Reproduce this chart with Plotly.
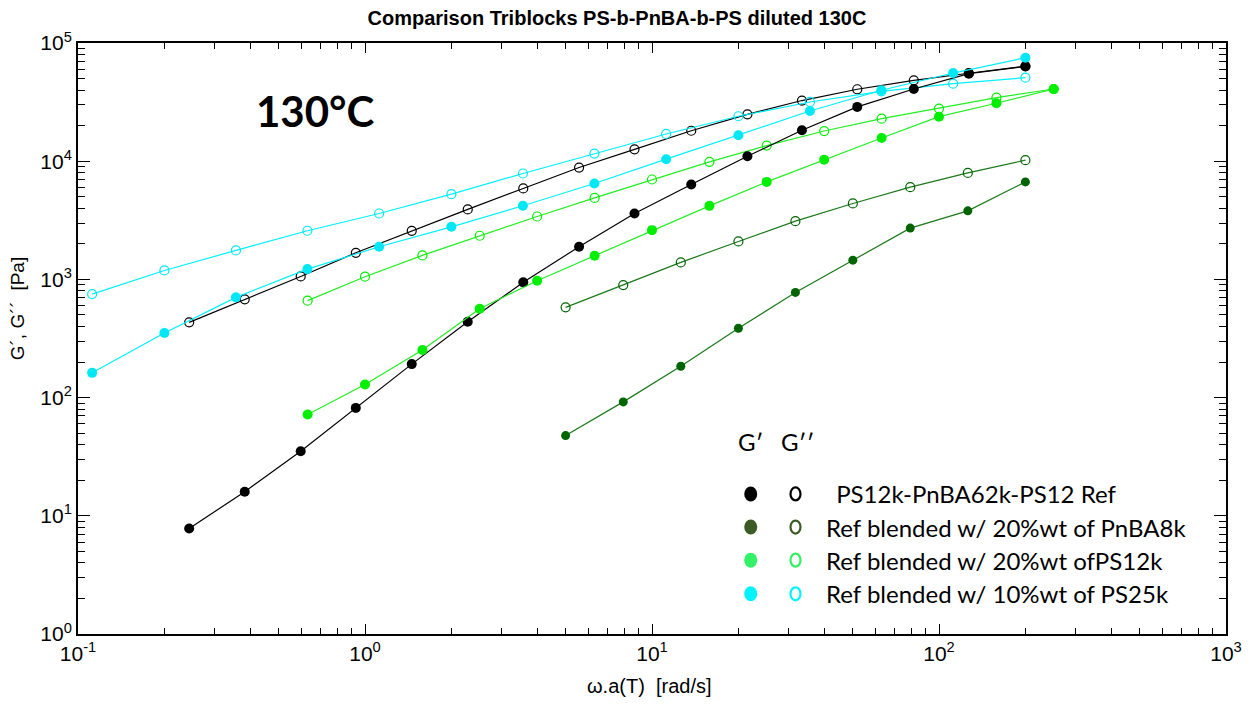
import plotly.graph_objects as go

# ---- data ----
ref_x = [0.244, 0.381, 0.597, 0.929, 1.455, 2.28, 3.56, 5.57, 8.69, 13.7, 21.5, 33.3, 51.9, 81.7, 127, 200]
ref_Gp = [7.8, 16.0, 35.2, 81.8, 192, 438, 944, 1890, 3610, 6350, 11000, 18300, 28800, 40800, 55000, 63500]
ref_Gpp = [433, 678, 1059, 1679, 2577, 3908, 5880, 8840, 12600, 18100, 24900, 32600, 40600, 48300, 55500, 63500]

pnba_x = [5.0, 7.94, 12.6, 20.0, 31.6, 50.1, 79.4, 126, 200]
pnba_Gp = [47.7, 92, 184, 386, 776, 1455, 2716, 3800, 6680]
pnba_Gpp = [580, 896, 1393, 2094, 3110, 4390, 6030, 7960, 10200]

ps12_x = [0.631, 1.0, 1.585, 2.51, 3.98, 6.31, 10.0, 15.85, 25.1, 39.8, 63.1, 100, 158.5, 251]
ps12_Gp = [71.9, 129, 253, 565, 975, 1585, 2610, 4190, 6680, 10300, 15700, 23800, 30900, 40800]
ps12_Gpp = [661, 1054, 1596, 2340, 3405, 4890, 7000, 9870, 13560, 18000, 22900, 27900, 34500, 40800]

ps25_x = [0.112, 0.2, 0.355, 0.63, 1.12, 2.0, 3.55, 6.3, 11.2, 20.0, 35.5, 63.0, 112.0, 200.0]
ps25_Gp = [162, 352, 705, 1222, 1888, 2786, 4200, 6470, 10400, 16600, 26600, 39800, 55700, 75100]
ps25_Gpp = [751, 1190, 1760, 2580, 3610, 5260, 7870, 11600, 17000, 24000, 31700, 39000, 45300, 50900]

legend_labels = [" PS12k-PnBA62k-PS12 Ref", "Ref blended w/ 20%wt of PnBA8k",
                 "Ref blended w/ 20%wt ofPS12k", "Ref blended w/ 10%wt of PS25k"]
tick_exps_x = [-1, 0, 1, 2, 3]
tick_exps_y = [0, 1, 2, 3, 4, 5]

series = [
    # x, G', G'', line colour, marker colour, filled size
    (ref_x, ref_Gp, ref_Gpp, "#000000", "#000000", 10),
    (pnba_x, pnba_Gp, pnba_Gpp, "#1a7a1a", "#006400", 9),
    (ps12_x, ps12_Gp, ps12_Gpp, "#22ee22", "#00ee00", 10),
    (ps25_x, ps25_Gp, ps25_Gpp, "#00f0ff", "#00e8f8", 10),
]

fig = go.Figure()
for x, gp, gpp, lc, mc, ms in series:
    fig.add_trace(go.Scatter(
        x=x, y=gpp, mode="lines+markers",
        line=dict(color=lc, width=1.2),
        marker=dict(symbol="circle-open", size=9, color=mc, line=dict(width=1.2, color=mc)),
        showlegend=False))
for x, gp, gpp, lc, mc, ms in series:
    fig.add_trace(go.Scatter(
        x=x, y=gp, mode="lines+markers",
        line=dict(color=lc, width=1.2),
        marker=dict(symbol="circle", size=ms, color=mc),
        showlegend=False))

# ---- hand-made legend ----
leg_fill = ["#000000", "#3b5a24", "#33f066", "#00f4ff"]
leg_open = ["#000000", "#3b5a24", "#33f066", "#00f4ff"]
row_y = [0.237, 0.181, 0.125, 0.068]
shapes = []
annotations = []
for i, lab in enumerate(legend_labels):
    shapes.append(dict(type="circle", xref="paper", yref="paper", xsizemode="pixel", ysizemode="pixel",
                       xanchor=0.586, yanchor=row_y[i], x0=-6.5, x1=6.5, y0=-7.5, y1=7.5,
                       fillcolor=leg_fill[i], line=dict(width=0)))
    shapes.append(dict(type="circle", xref="paper", yref="paper", xsizemode="pixel", ysizemode="pixel",
                       xanchor=0.625, yanchor=row_y[i], x0=-5, x1=5, y0=-6.5, y1=6.5,
                       fillcolor="rgba(0,0,0,0)", line=dict(width=2.2, color=leg_open[i])))
    annotations.append(dict(xref="paper", yref="paper", x=0.6496 if i else 0.653, y=row_y[i],
                            text=lab, showarrow=False, xanchor="left", yanchor="middle",
                            font=dict(family="Lato", size=24, color="#000000")))
annotations.append(dict(xref="paper", yref="paper", x=0.586, y=0.325, text="G′", showarrow=False,
                        xanchor="center", yanchor="middle", font=dict(family="Lato", size=24, color="#000")))
annotations.append(dict(xref="paper", yref="paper", x=0.627, y=0.325, text="G′′", showarrow=False,
                        xanchor="center", yanchor="middle", font=dict(family="Lato", size=24, color="#000")))
annotations.append(dict(xref="paper", yref="paper", x=0.207, y=0.885, text="<b>130°C</b>", showarrow=False,
                        xanchor="center", yanchor="middle", font=dict(family="Lato", size=42, color="#000")))
# axis titles
annotations.append(dict(xref="paper", yref="paper", x=0.498, y=-0.088, text="ω.a(T)  [rad/s]",
                        showarrow=False, xanchor="center", yanchor="middle",
                        font=dict(family="Liberation Sans", size=20, color="#000")))
annotations.append(dict(xref="paper", yref="paper", x=-0.052, y=0.55, text="G´, G´´  [Pa]",
                        showarrow=False, xanchor="center", yanchor="middle", textangle=-90,
                        font=dict(family="Liberation Sans", size=19, color="#000")))

axis_common = dict(type="log", showgrid=False, zeroline=False, showline=True, linecolor="#000",
                   linewidth=2, mirror="ticks", ticks="inside", tickcolor="#000", tickwidth=1.3,
                   tickfont=dict(family="Liberation Sans", size=21, color="#000"))

fig.update_layout(
    width=1254, height=706,
    margin=dict(l=78, r=17, t=43, b=72),
    paper_bgcolor="white", plot_bgcolor="white",
    title=dict(text="<b>Comparison Triblocks PS-b-PnBA-b-PS diluted 130C</b>", x=0.492, xanchor="center",
               y=0.975, yanchor="middle", font=dict(family="Liberation Sans", size=20, color="#000")),
    xaxis=dict(axis_common, range=[-1, 3], ticklen=10,
               tickvals=[10 ** e for e in tick_exps_x],
               ticktext=["10<sup>%d</sup>" % e for e in tick_exps_x],
               minor=dict(ticks="inside", ticklen=6, dtick="D1", tickcolor="#000", tickwidth=1.2)),
    yaxis=dict(axis_common, range=[0, 5], ticklen=12,
               tickvals=[10 ** e for e in tick_exps_y],
               ticktext=["10<sup>%d</sup>" % e for e in tick_exps_y],
               minor=dict(ticks="inside", ticklen=7, dtick="D1", tickcolor="#000", tickwidth=1.2)),
    shapes=shapes, annotations=annotations,
)

fig.write_html("out.html")
